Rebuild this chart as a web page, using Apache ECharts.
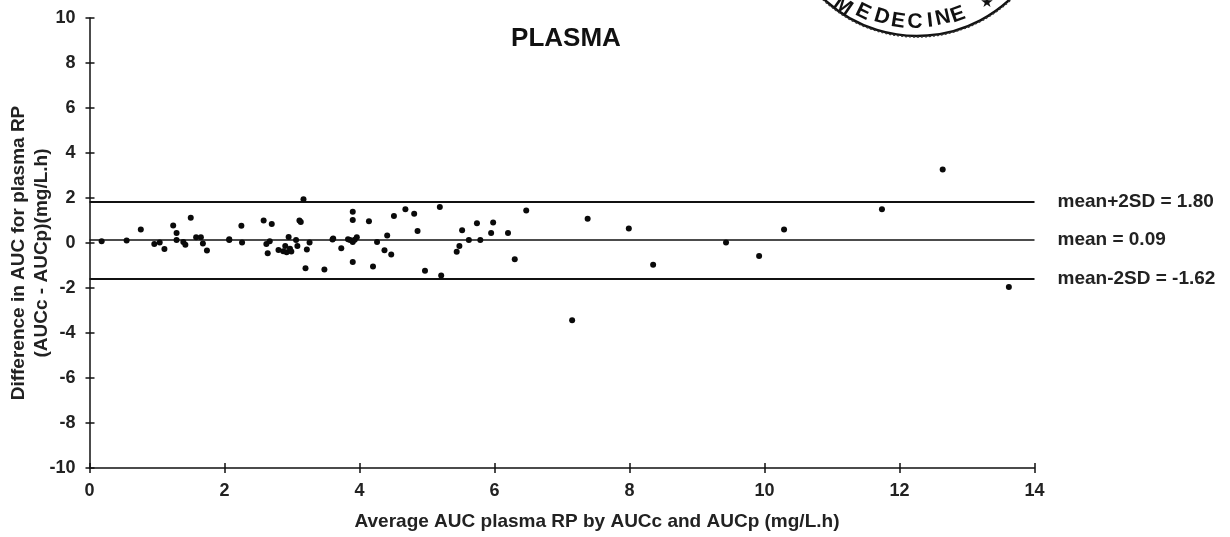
<!DOCTYPE html>
<html>
<head>
<meta charset="utf-8">
<title>Plasma</title>
<script src="https://cdn.jsdelivr.net/npm/echarts@6/dist/echarts.min.js"></script>
<style>
  html, body { margin: 0; padding: 0; background: #fff; }
  #chart { width: 1230px; height: 537px; }
</style>
</head>
<body>
<div id="chart"></div>
<script>
const avgAuc = [
  0.18, 0.55, 0.76, 0.96, 1.04, 1.11, 1.24, 1.29, 1.29, 1.39, 1.42, 1.50, 1.58, 1.65, 1.68, 1.74,
  2.07, 2.07, 2.26, 2.25, 2.58, 2.70, 2.62, 2.67, 2.64, 2.80, 2.87, 2.90, 2.92, 2.95, 2.97, 2.99,
  3.06, 3.08, 3.11, 3.13, 3.17, 3.20, 3.22, 3.26, 3.48, 3.60, 3.61, 3.73, 3.83, 3.90, 3.86, 3.96,
  3.93, 3.90, 3.90, 3.90, 4.14, 4.20, 4.26, 4.37, 4.41, 4.47, 4.51, 4.68, 4.81, 4.86, 4.97, 5.19,
  5.21, 5.44, 5.48, 5.52, 5.62, 5.74, 5.79, 5.95, 5.98, 6.20, 6.30, 6.47, 7.15, 7.38, 7.99, 8.35,
  9.43, 9.92, 10.29, 11.74, 12.64, 13.62
];
const aucDiff = [
  0.08, 0.11, 0.60, -0.04, 0.02, -0.27, 0.78, 0.44, 0.13, 0.04, -0.08, 1.12, 0.26, 0.26, -0.02, -0.33,
  0.13, 0.17, 0.02, 0.77, 1.00, 0.84, -0.04, 0.08, -0.45, -0.31, -0.37, -0.13, -0.41, 0.27, -0.25, -0.38,
  0.13, -0.13, 1.00, 0.93, 1.94, -1.12, -0.29, 0.02, -1.18, 0.16, 0.20, -0.23, 0.17, 0.04, 0.13, 0.26,
  0.14, 1.39, 1.02, -0.84, 0.97, -1.04, 0.04, -0.32, 0.33, -0.51, 1.20, 1.50, 1.30, 0.53, -1.23, 1.60,
  -1.44, -0.39, -0.13, 0.57, 0.13, 0.88, 0.13, 0.45, 0.91, 0.45, -0.72, 1.45, -3.43, 1.08, 0.65, -0.97,
  0.02, -0.58, 0.60, 1.50, 3.27, -1.95
];
const lineValues = [1.83, 0.14, -1.58];
const lineLabels = ['mean+2SD = 1.80', 'mean = 0.09', 'mean-2SD = -1.62'];
const stampLetters = ['M', 'E', 'D', 'E', 'C', 'I', 'N', 'E'];
const stampLetterX = [843, 863, 882, 898, 915, 930, 943, 958];
const stampLetterY = [6, 12, 17, 21, 22, 21, 18, 15];

const FONT = '"Liberation Sans", Arial, sans-serif';
const STAMP_CX = 917;
const STAMP_CY = -100;
const STAMP_R = 137;

const myChart = echarts.init(document.getElementById('chart'));

const innerTickAxis = {
  gridIndex: 1,
  type: 'value',
  axisLine: { show: true, onZero: false, lineStyle: { color: 'transparent' } },
  axisLabel: { show: false },
  splitLine: { show: false },
  axisTick: { show: true, inside: true, length: 5, lineStyle: { color: '#111', width: 1.5 } }
};

const stampGraphics = stampLetters.map((letter, i) => ({
  type: 'text',
  x: stampLetterX[i],
  y: stampLetterY[i],
  rotation: Math.atan2(stampLetterX[i] - STAMP_CX, stampLetterY[i] - STAMP_CY),
  style: {
    text: letter,
    font: 'bold 21px ' + FONT,
    fill: '#111',
    align: 'center',
    verticalAlign: 'middle'
  }
}));

const gridRect = { left: 89.5, top: 18, width: 945, height: 450, outerBoundsMode: 'none' };

const option = {
  animation: false,
  backgroundColor: '#fff',
  title: {
    text: 'PLASMA',
    left: 561,
    top: 21,
    textAlign: 'center',
    textStyle: { fontFamily: FONT, fontSize: 26, fontWeight: 'bold', color: '#111' }
  },
  grid: [gridRect, gridRect],
  xAxis: [
    {
      type: 'value',
      min: 0,
      max: 14,
      interval: 2,
      position: 'bottom',
      name: 'Average AUC plasma RP by AUCc and AUCp (mg/L.h)',
      nameLocation: 'middle',
      nameMoveOverlap: false,
      nameGap: 44,
      nameTextStyle: { fontFamily: FONT, fontSize: 19, fontWeight: 'bold', color: '#222', padding: [0, 0, 0, 70] },
      axisLine: { onZero: false, lineStyle: { color: '#111', width: 1.5 } },
      axisTick: { length: 5, lineStyle: { color: '#111', width: 1.5 } },
      axisLabel: { fontFamily: FONT, fontSize: 18, fontWeight: 'bold', color: '#222', margin: 14 },
      splitLine: { show: false }
    },
    Object.assign({ min: 0, max: 14, interval: 2, position: 'bottom' }, innerTickAxis)
  ],
  yAxis: [
    {
      type: 'value',
      min: -10,
      max: 10,
      interval: 2,
      position: 'left',
      name: 'Difference in AUC for plasma RP\n(AUCc - AUCp)(mg/L.h)',
      nameLocation: 'middle',
      nameMoveOverlap: false,
      nameGap: 36,
      nameRotate: 90,
      nameTextStyle: { fontFamily: FONT, fontSize: 19, fontWeight: 'bold', color: '#222', lineHeight: 23, padding: [0, 20, 0, 0] },
      axisLine: { onZero: false, lineStyle: { color: '#111', width: 1.5 } },
      axisTick: { length: 4, lineStyle: { color: '#111', width: 1.5 } },
      axisLabel: { fontFamily: FONT, fontSize: 18, fontWeight: 'bold', color: '#222', margin: 14 },
      splitLine: { show: false }
    },
    Object.assign({ min: -10, max: 10, interval: 2, position: 'left' }, innerTickAxis)
  ],
  series: [
    {
      type: 'scatter',
      data: avgAuc.map((x, i) => [x, aucDiff[i]]),
      symbolSize: 6,
      itemStyle: { color: '#0a0a0a', opacity: 1 },
      z: 5,
      markLine: {
        silent: true,
        symbol: 'none',
        animation: false,
        data: lineValues.map((v, i) => ({
          yAxis: v,
          lineStyle: { color: '#111', type: 'solid', width: i === 1 ? 1.5 : 2 },
          label: {
            show: true,
            position: 'end',
            distance: 23,
            align: 'left',
            formatter: lineLabels[i],
            fontFamily: FONT,
            fontSize: 19,
            fontWeight: 'bold',
            color: '#222'
          }
        }))
      }
    },
    // empty, only keeps the inner tick axes alive
    { type: 'scatter', xAxisIndex: 1, yAxisIndex: 1, data: [] }
  ],
  graphic: [
    {
      type: 'arc',
      shape: { cx: STAMP_CX, cy: STAMP_CY, r: STAMP_R - 1, startAngle: 0.3, endAngle: Math.PI - 0.3 },
      style: { fill: null, stroke: '#111', lineWidth: 2.5 }
    },
    {
      type: 'arc',
      shape: { cx: STAMP_CX, cy: STAMP_CY, r: STAMP_R, startAngle: 0.3, endAngle: Math.PI - 0.3 },
      style: { fill: null, stroke: '#333', lineWidth: 1.5, lineDash: [2, 2] }
    },
    {
      type: 'text',
      x: 987,
      y: 3,
      style: { text: '★', font: '15px "DejaVu Sans"', fill: '#111', align: 'center', verticalAlign: 'middle' }
    }
  ].concat(stampGraphics)
};

myChart.setOption(option);

window.addEventListener('resize', () => {
  myChart.resize();
});
</script>
</body>
</html>
